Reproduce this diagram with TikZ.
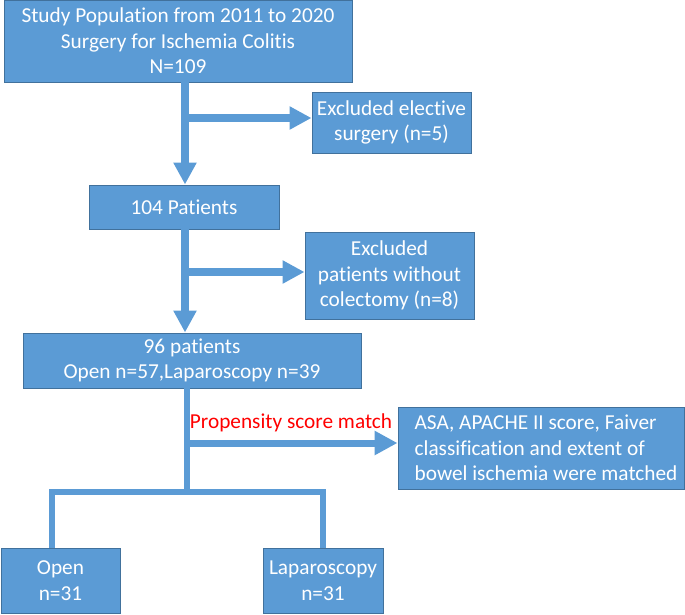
\documentclass[tikz,border=0pt]{standalone}
\usepackage{fontspec}
\setmainfont{Carlito}[Ligatures={NoCommon}]
\usetikzlibrary{arrows.meta,calc}
\definecolor{boxfill}{HTML}{5B9BD5}
\definecolor{boxline}{HTML}{41719C}
\definecolor{arrowcol}{HTML}{5B9BD5}
\tikzset{
  flowbox/.style={draw=boxline, line width=1pt, fill=boxfill, text=white, align=center,
    inner sep=0pt, font=\fontsize{21.3}{25.5}\selectfont},
  bigarrow/.style={draw=arrowcol, line width=8pt, -{Triangle[width=22pt,length=22pt]}},
  sidearrow/.style={draw=arrowcol, line width=8pt, -{Triangle[width=22pt,length=22pt]}},
  thinline/.style={draw=arrowcol, line width=5.5pt}
}
\begin{document}
\begin{tikzpicture}[x=1pt,y=-1pt]
\useasboundingbox (0,0) rectangle (685,614);
\node[flowbox, minimum width=348pt, minimum height=82pt] (b1) at (178,41)
  {Study Population from 2011 to 2020\\Surgery for Ischemia Colitis\\N=109};
\node[flowbox, minimum width=159pt, minimum height=61pt] (e1) at (391.5,122.5)
  {Excluded elective\\surgery (n=5)};
\node[flowbox, minimum width=190pt, minimum height=44pt] (b2) at (184,207)
  {104 Patients};
\node[flowbox, minimum width=169pt, minimum height=87pt] (e2) at (389.5,275.5)
  {Excluded\\patients without\\colectomy (n=8)};
\node[flowbox, minimum width=338pt, minimum height=55pt] (b3) at (192,360.5)
  {96 patients\\Open n=57,Laparoscopy n=39};
\node[flowbox, minimum width=286pt, minimum height=82pt, align=left] (e3) at (541,448)
  {\hspace*{10pt}ASA, APACHE II score, Faiver\\\hspace*{10pt}classification and extent of\\\hspace*{10pt}bowel ischemia were matched};
\node[flowbox, minimum width=119pt, minimum height=65pt] (o) at (60.5,580.5)
  {Open\\n=31};
\node[flowbox, minimum width=120pt, minimum height=65pt] (l) at (323,580.5)
  {Laparoscopy\\n=31};
\node[text=red, font=\fontsize{21.3}{25.5}\selectfont, inner sep=0pt] (psm) at (291,423) {Propensity score match};

% arrow 1
\coordinate (s1) at (185,82);
\coordinate (j1) at (185,118);
\draw[bigarrow] (s1) -- (s1 |- b2.north);
\draw[sidearrow] ([xshift=-4pt]j1) -- (j1 -| e1.west);
% arrow 2
\coordinate (s2) at (185,229);
\coordinate (j2) at (185,272);
\draw[bigarrow] (s2) -- (s2 |- b3.north);
\draw[sidearrow] ([xshift=-4pt]j2) -- (j2 -| e2.west);
% split
\coordinate (s3) at (187,388);
\coordinate (j3) at (187,443);
\coordinate (m) at (187,492);
\coordinate (ml) at (52,492);
\coordinate (mr) at (323,492);
\draw[thinline] (s3) -- (m);
\draw[draw=arrowcol, line width=7pt, -{Triangle[width=23pt,length=23pt]}] ([xshift=-3pt]j3) -- (j3 -| e3.west);
\draw[thinline, line join=miter] (ml |- o.north) -- (ml) -- (mr) -- (mr |- l.north);
\end{tikzpicture}
\end{document}
